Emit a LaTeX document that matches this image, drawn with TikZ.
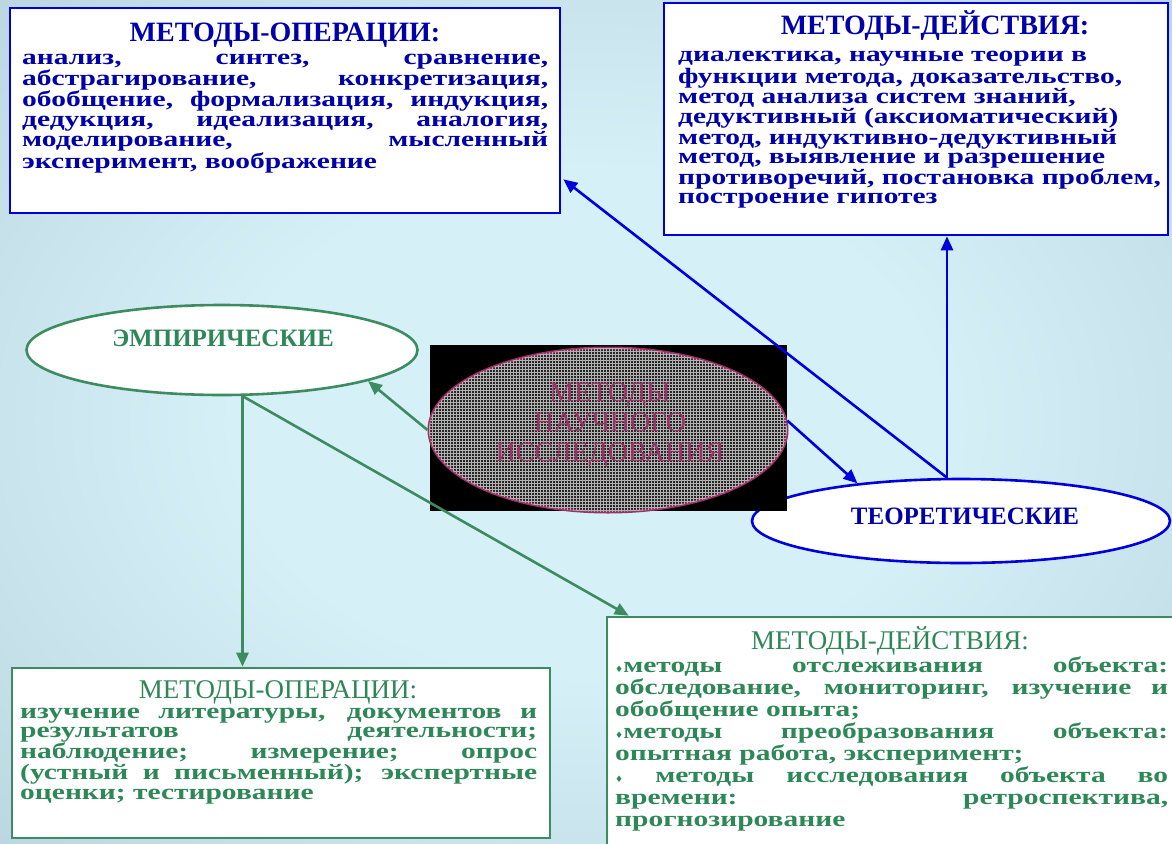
\documentclass[tikz,border=0pt]{standalone}
\usepackage{fontspec}
\setmainfont{Liberation Serif}
\newfontfamily\bodyf[FakeStretch=1.34]{Liberation Serif}
\newfontfamily\symf{DejaVu Sans}
\usetikzlibrary{arrows.meta,calc,patterns,shapes.geometric}
\definecolor{bgin}{HTML}{D6F0F8}
\definecolor{bgmid}{HTML}{AAC5D1}
\definecolor{bgout}{HTML}{8AA2B0}
\definecolor{bline}{HTML}{0000DC}
\definecolor{btext}{HTML}{0000AA}
\definecolor{gline}{HTML}{3C8C5F}
\definecolor{gtext}{HTML}{2E8757}
\definecolor{maroonc}{HTML}{993366}
\pgfdeclareradialshading{bgshade}{\pgfpoint{0bp}{0bp}}{color(0bp)=(bgin); color(15bp)=(bgin); color(50bp)=(bgmid); color(71bp)=(bgout)}
\newcommand{\dm}{{\symf\fontsize{9}{9}\selectfont ♦}}
\hyphenpenalty=10000
\exhyphenpenalty=10000
\begin{document}
\begin{tikzpicture}[x=1pt,y=-1pt,
  bbox/.style={draw=bline, line width=2.6pt, fill=white, inner sep=0pt},
  gbox/.style={draw=gline, line width=2.6pt, fill=white, inner sep=0pt},
  btitle/.style={font=\bfseries\fontsize{28}{28}\selectfont, text=btext, inner sep=0pt},
  gtitle/.style={font=\fontsize{27}{27}\selectfont, text=gtext, inner sep=0pt},
  bbody/.style={font=\bodyf\bfseries\fontsize{22}{19.2}\selectfont, text=btext, inner sep=0pt},
  gbody/.style={font=\bodyf\bfseries\fontsize{22}{19.4}\selectfont, text=gtext, inner sep=0pt},
  gbodyw/.style={font=\bodyf\bfseries\fontsize{22}{22}\selectfont, text=gtext, inner sep=0pt},
  bell/.style={ellipse, draw=bline, line width=2.6pt, fill=white, inner sep=0pt},
  gell/.style={ellipse, draw=gline, line width=2.6pt, fill=white, inner sep=0pt},
  elltext/.style={font=\bfseries\fontsize{25}{25}\selectfont, inner sep=0pt},
  barrow/.style={draw=bline, line width=2.6pt, -{Triangle[length=14pt,width=12pt]}},
  garrow/.style={draw=gline, line width=2.6pt, -{Triangle[length=14pt,width=12pt]}}]

\shade[shading=bgshade] (0,0) rectangle (1172,843);
\useasboundingbox (0,0) rectangle (1172,843);

% boxes
\node[bbox, minimum width=550pt, minimum height=205pt] (tl) at (285,110.5) {};
\node[bbox, minimum width=504pt, minimum height=232pt] (tr) at (916,119) {};
\node[gbox, minimum width=538pt, minimum height=170pt] (bl) at (281,753) {};
\node[gbox, minimum width=575pt, minimum height=235pt] (br) at (894.5,734.5) {};

% box texts
\node[btitle, anchor=base] (tlh) at (285,42) {МЕТОДЫ-ОПЕРАЦИИ:};
\node[bbody, text width=526pt, align=justify, anchor=base west] (tlb) at (22,64)
 {анализ, синтез, сравнение,\linebreak абстрагирование, конкретизация,\linebreak обобщение, формализация, индукция,\linebreak дедукция, идеализация, аналогия,\linebreak моделирование, мысленный\linebreak эксперимент, воображение};

\node[btitle, anchor=base] (trh) at (935,35) {МЕТОДЫ-ДЕЙСТВИЯ:};
\node[bbody, text width=490pt, align=left, anchor=base west] (trb) at (678,62)
 {диалектика, научные теории в\\ функции метода, доказательство,\\ метод анализа систем знаний,\\ дедуктивный (аксиоматический)\\ метод, индуктивно-дедуктивный\\ метод, выявление и разрешение\\ противоречий, постановка проблем,\\ построение гипотез};

\node[gtitle, anchor=base] (blh) at (278,698) {МЕТОДЫ-ОПЕРАЦИИ:};
\node[gbody, text width=517pt, align=justify, anchor=base west] (blb) at (20,718)
 {изучение литературы, документов и\linebreak результатов деятельности;\linebreak наблюдение; измерение; опрос\linebreak (устный и письменный); экспертные\linebreak оценки; тестирование};

\node[gtitle, anchor=base] (brh) at (890,649) {МЕТОДЫ-ДЕЙСТВИЯ:};
\node[gbodyw, text width=553pt, align=justify, anchor=base west] (brb) at (615,672)
 {\dm методы отслеживания объекта:\linebreak обследование, мониторинг, изучение и\linebreak обобщение опыта;\\ \dm методы преобразования объекта:\linebreak опытная работа, эксперимент;\\ \dm\ методы исследования объекта во\linebreak времени: ретроспектива,\linebreak прогнозирование};

% ellipses
\node[gell, minimum width=391pt, minimum height=90pt] (emp) at (222,350) {};
\node[elltext, text=gtext, anchor=base] (empl) at (223,346) {ЭМПИРИЧЕСКИЕ};
\node[bell, minimum width=418pt, minimum height=84pt] (t) at (961,521) {};
\node[elltext, text=btext, anchor=base] (tl2) at (965,524) {ТЕОРЕТИЧЕСКИЕ};

% centre
\node[fill=black, minimum width=357pt, minimum height=166pt, inner sep=0pt] (cbg) at (608.5,428) {};
\node[ellipse, draw=maroonc, line width=3pt, fill=black!85, postaction={pattern=grid, pattern color=white!70!black}, minimum width=358pt, minimum height=164pt, inner sep=0pt] (c) at (608,430) {};
\node[font=\fontsize{28}{30}\selectfont, text=maroonc, align=center, inner sep=0pt] (ct) at (610,425) {МЕТОДЫ\\НАУЧНОГО\\ИССЛЕДОВАНИЯ};

% connectors
\coordinate (tp) at ($(t.north)+(-14,0)$);
\coordinate (ep) at (emp.-66);
\draw[barrow] (c.3) -- (t.160);
\draw[barrow] (tp) -- (tp |- tr.south);
\draw[barrow] (tp) -- ($(tl.south east)+(2,-35)$);
\draw[garrow] (c.west) -- (emp.-12);
\draw[garrow] (ep) -- (ep |- bl.north);
\draw[garrow] (ep) -- ($(br.north west)+(23,0)$);
\end{tikzpicture}
\end{document}
